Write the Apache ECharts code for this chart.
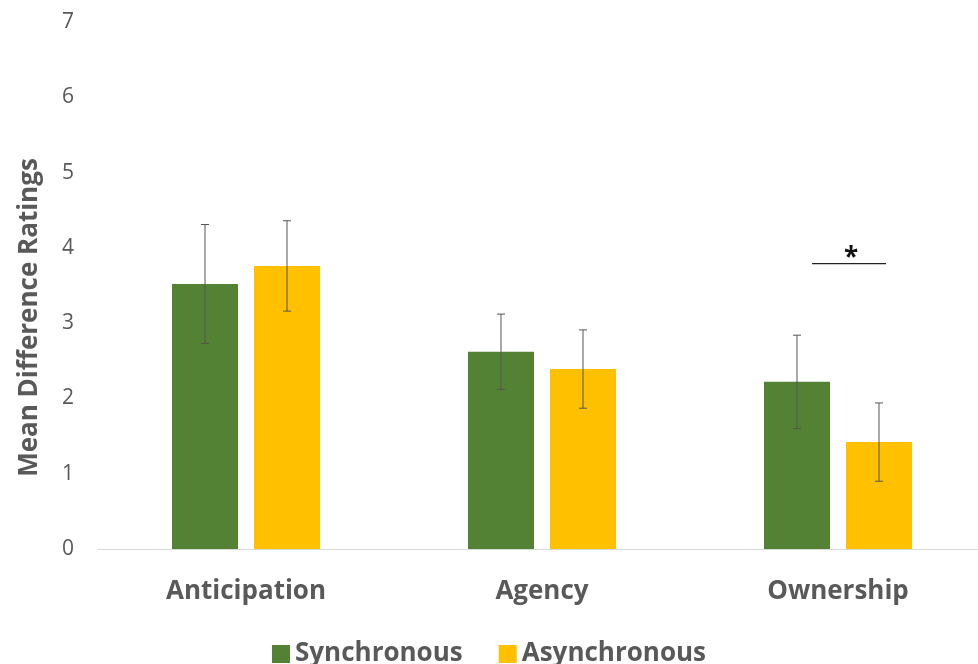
<!DOCTYPE html>
<html>
<head>
<meta charset="utf-8">
<script src="https://cdn.jsdelivr.net/npm/echarts@6/dist/echarts.min.js"></script>
<style>
  html, body { margin: 0; padding: 0; background: #fff; }
  #container { width: 978px; height: 664px; }
</style>
</head>
<body>
<div id="container"></div>
<script>
var categories = ['Anticipation', 'Agency', 'Ownership'];
var syncMean = [3.52, 2.62, 2.22];
var syncErr = [0.79, 0.50, 0.62];
var asyncMean = [3.76, 2.39, 1.42];
var asyncErr = [0.60, 0.52, 0.52];
// significance bracket: category index, height
var sigMarks = [[2, 3.79, '*']];

var GREEN = '#548235';
var YELLOW = '#FFC000';
var TXT = '#595959';
var FONT = 'Open Sans';

var barW = 66;
var gap = 16;

function errData(mean, err) {
    var result = [];
    for (var i = 0; i < mean.length; i++) {
        result.push([i, mean[i] - err[i], mean[i] + err[i]]);
    }
    return result;
}

function errRender(offset) {
    return function (params, api) {
        var lo = api.coord([api.value(0), api.value(1)]);
        var hi = api.coord([api.value(0), api.value(2)]);
        var x = lo[0] + offset;
        var style = { stroke: '#555', lineWidth: 1 };
        return {
            type: 'group',
            children: [
                { type: 'line', shape: { x1: x, y1: lo[1], x2: x, y2: hi[1] }, style: style },
                { type: 'line', shape: { x1: x - 4, y1: lo[1], x2: x + 4, y2: lo[1] }, style: style },
                { type: 'line', shape: { x1: x - 4, y1: hi[1], x2: x + 4, y2: hi[1] }, style: style }
            ]
        };
    };
}

var dom = document.getElementById('container');
var myChart = echarts.init(dom);

var option = {
    animation: false,
    backgroundColor: '#fff',
    grid: { left: 98, right: -8, top: 22, bottom: 115, containLabel: false, outerBoundsMode: 'none' },
    legend: {
        bottom: -8,
        left: 'center',
        data: ['Synchronous', 'Asynchronous'],
        itemWidth: 18,
        itemHeight: 18,
        itemGap: 36,
        icon: 'rect',
        textStyle: { color: TXT, fontSize: 26, fontWeight: 'bold', fontFamily: FONT }
    },
    xAxis: {
        type: 'category',
        data: categories,
        axisLine: { lineStyle: { color: '#d9d9d9', width: 1 } },
        axisTick: { show: false },
        axisLabel: { color: TXT, fontSize: 26, fontWeight: 'bold', fontFamily: FONT, margin: 30 }
    },
    yAxis: {
        type: 'value',
        min: 0,
        max: 7,
        interval: 1,
        name: 'Mean Difference Ratings',
        nameLocation: 'middle',
        nameGap: 55,
        nameTextStyle: { color: TXT, fontSize: 26, fontWeight: 'bold', fontFamily: FONT, padding: [0, 64, 0, 0] },
        axisLine: { show: false },
        axisTick: { show: false },
        splitLine: { show: false },
        axisLabel: { color: TXT, fontSize: 21, fontFamily: FONT, margin: 24 }
    },
    series: [
        {
            name: 'Synchronous',
            type: 'bar',
            data: syncMean,
            barWidth: barW,
            barGap: (gap / barW * 100) + '%',
            itemStyle: { color: GREEN }
        },
        {
            name: 'Asynchronous',
            type: 'bar',
            data: asyncMean,
            barWidth: barW,
            itemStyle: { color: YELLOW }
        },
        {
            type: 'custom',
            renderItem: errRender(-(barW + gap) / 2),
            data: errData(syncMean, syncErr),
            encode: { x: 0, y: [1, 2] },
            z: 10
        },
        {
            type: 'custom',
            renderItem: errRender((barW + gap) / 2),
            data: errData(asyncMean, asyncErr),
            encode: { x: 0, y: [1, 2] },
            z: 10
        },
        {
            type: 'custom',
            data: sigMarks,
            encode: { x: 0, y: 1 },
            z: 10,
            renderItem: function (params, api) {
                var p = api.coord([api.value(0), api.value(1)]);
                return {
                    type: 'group',
                    children: [
                        { type: 'line', shape: { x1: p[0] - 26, y1: p[1], x2: p[0] + 48, y2: p[1] },
                          style: { stroke: '#222', lineWidth: 1.2 } },
                        { type: 'text', x: p[0] + 13, y: p[1] - 5,
                          style: { text: sigMarks[params.dataIndex][2], fill: '#111', fontSize: 26,
                                   fontWeight: 'bold', fontFamily: FONT, align: 'center', verticalAlign: 'middle' } }
                    ]
                };
            }
        }
    ]
};

myChart.setOption(option);
</script>
</body>
</html>
